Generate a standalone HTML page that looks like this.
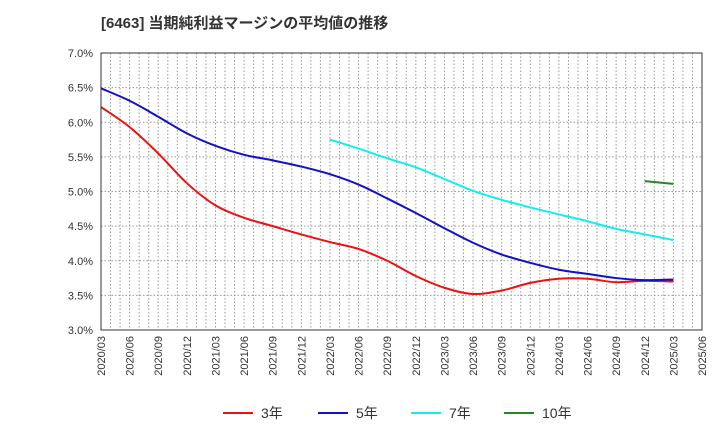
<!DOCTYPE html>
<html><head><meta charset="utf-8"><style>
body{margin:0;background:#fff;font-family:"Liberation Sans","Noto Sans CJK JP",sans-serif}
</style></head><body>
<svg id="c" width="720" height="440" xmlns="http://www.w3.org/2000/svg">
<text x="101" y="28" font-size="15" font-weight="bold" fill="#333" font-family="Liberation Sans, Noto Sans CJK JP, sans-serif">[6463]  当期純利益マージンの平均値の推移</text>
<g id="grid"></g><g id="series"></g><g id="axes"></g><g id="legend"></g>
</svg>
<script>
const xLabels=["2020/03","2020/06","2020/09","2020/12","2021/03","2021/06","2021/09","2021/12","2022/03","2022/06","2022/09","2022/12","2023/03","2023/06","2023/09","2023/12","2024/03","2024/06","2024/09","2024/12","2025/03","2025/06"];
const yTicks=[3.0,3.5,4.0,4.5,5.0,5.5,6.0,6.5,7.0];
const seriesNames=["3年","5年","7年","10年"];
const seriesColors=["#ee1111","#1111cc","#11eeee","#228822"];
const s3=[6.22,5.93,5.55,5.12,4.80,4.62,4.50,4.38,4.27,4.17,4.00,3.78,3.61,3.52,3.57,3.68,3.74,3.74,3.69,3.71,3.70];
const s5=[6.49,6.31,6.08,5.84,5.66,5.53,5.45,5.36,5.25,5.10,4.90,4.69,4.47,4.26,4.09,3.97,3.87,3.81,3.75,3.72,3.73];
const s7=[null,null,null,null,null,null,null,null,5.75,5.62,5.48,5.35,5.18,5.01,4.88,4.77,4.67,4.57,4.46,4.38,4.30];
const s10=[null,null,null,null,null,null,null,null,null,null,null,null,null,null,null,null,null,null,null,5.15,5.11];
const L=101,R=702,T=53,B=330;
const ns="http://www.w3.org/2000/svg";
const xS=i=>L+i*(R-L)/(xLabels.length-1);
const yS=v=>B-(v-3)*(B-T)/4;
function mk(t,a,p){const e=document.createElementNS(ns,t);for(const k in a)e.setAttribute(k,a[k]);p.appendChild(e);return e;}
const grid=document.getElementById('grid'),axes=document.getElementById('axes'),ser=document.getElementById('series'),leg=document.getElementById('legend');
for(let m=1;m<(xLabels.length-1)*3;m++){const x=L+m*(R-L)/((xLabels.length-1)*3);
const g=mk('line',{x1:x,x2:x,y1:T,y2:B,stroke:'#999','stroke-dasharray':'1.5,2','stroke-width':1},grid);
}
yTicks.forEach(v=>{const y=yS(v);
const g=mk('line',{x1:L,x2:R,y1:y,y2:y,stroke:'#999','stroke-dasharray':'1.5,2','stroke-width':1},grid);

const t=mk('text',{x:L-8,y:y+4,'text-anchor':'end','font-size':11,fill:'#333'},axes);t.textContent=v.toFixed(1)+'%';
});
xLabels.forEach((lb,i)=>{const x=xS(i);
const t=mk('text',{x:x+4,y:B+6,'text-anchor':'end','font-size':11,fill:'#333',transform:`rotate(-90 ${x+4} ${B+6})`},axes);t.textContent=lb;
});
const fr=mk('rect',{x:L,y:T,width:R-L,height:B-T,fill:'none',stroke:'#333','stroke-width':1},axes);

function pathFor(arr){const pts=[];arr.forEach((v,i)=>{if(v!=null)pts.push([xS(i),yS(v)]);});
let d='M'+pts[0][0]+','+pts[0][1];
for(let i=0;i<pts.length-1;i++){const p0=pts[Math.max(0,i-1)],p1=pts[i],p2=pts[i+1],p3=pts[Math.min(pts.length-1,i+2)];
const c1=[p1[0]+(p2[0]-p0[0])/6,p1[1]+(p2[1]-p0[1])/6],c2=[p2[0]-(p3[0]-p1[0])/6,p2[1]-(p3[1]-p1[1])/6];
d+=` C${c1[0]},${c1[1]} ${c2[0]},${c2[1]} ${p2[0]},${p2[1]}`;}return d;}
[s3,s5,s7,s10].forEach((a,k)=>{const p=mk('path',{d:pathFor(a),fill:'none',stroke:seriesColors[k],'stroke-width':2},ser);
});
const lx=[223,318,411,504];
seriesNames.forEach((n,k)=>{const g=mk('g',{},leg);

mk('line',{x1:lx[k],x2:lx[k]+30,y1:413,y2:413,stroke:seriesColors[k],'stroke-width':2},g);
const t=mk('text',{x:lx[k]+38,y:418,'font-size':14,fill:'#333'},g);t.textContent=n;});
</script>
</body></html>
